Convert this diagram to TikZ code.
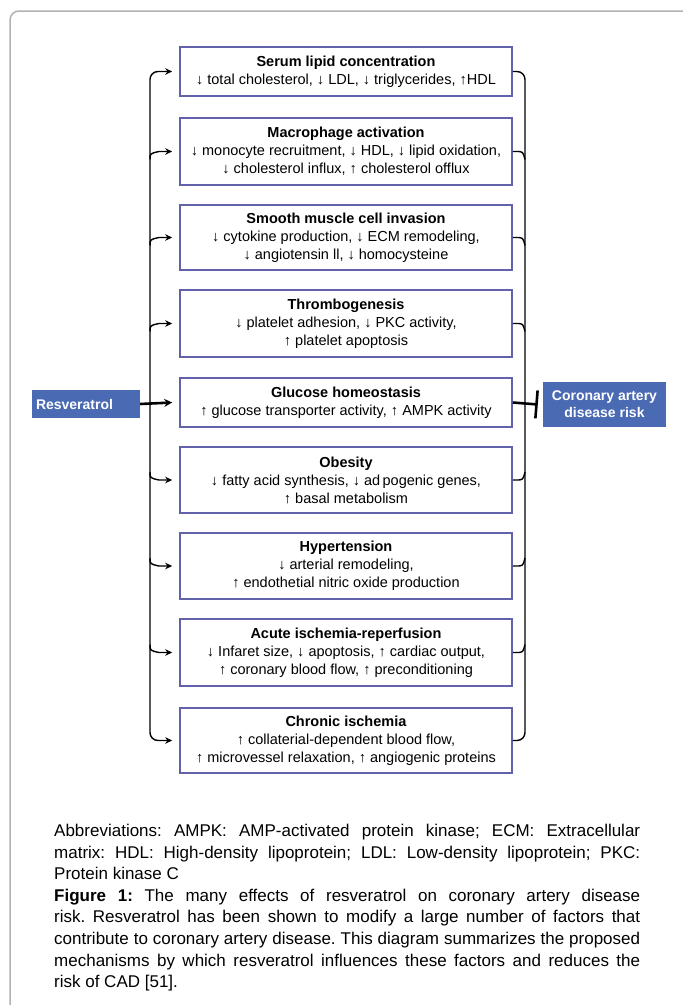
\documentclass[tikz,border=0pt]{standalone}
\usepackage{fontspec}
\setmainfont{Liberation Sans}
\usetikzlibrary{arrows.meta,calc}
\setlength{\parindent}{0pt}
\frenchspacing

\definecolor{boxline}{RGB}{98,98,170}
\definecolor{resblue}{RGB}{74,106,180}
\definecolor{framegray}{RGB}{178,178,178}

\tikzset{
	factor/.style={draw=boxline, line width=1.6pt, minimum width=332pt, minimum height=#1, align=center, inner sep=0pt, font=\fontsize{14.5}{18}\selectfont},
	factor/.default=66pt,
	tag/.style={fill=resblue, text=white, inner sep=0pt, font=\bfseries\fontsize{14}{17}\selectfont},
	wire/.style={line width=1.4pt},
	feed/.style={wire, -{Stealth[length=7pt,width=6.5pt]}},
	trunk/.style={wire, {Stealth[length=7pt,width=6.5pt]}-{Stealth[length=7pt,width=6.5pt]}, rounded corners=8pt},
}

\begin{document}
\begin{tikzpicture}[x=1pt,y=-1pt]
			%%%%% START %%%%%
			\useasboundingbox (0,0) rectangle (683,1005);
			
			\begin{scope}
				\clip (0,0) rectangle (683,1005);
				\draw[framegray, line width=1.5pt, rounded corners=9pt] (10,1030) -- (10,11) -- (710,11);
			\end{scope}
			
			\node[factor=49pt] (lipid) at (346,71.5) {\textbf{Serum lipid concentration}\\↓ total cholesterol, ↓ LDL, ↓ triglycerides, ↑HDL};
			\node[factor=67pt] (macro) at (346,151.5) {\textbf{Macrophage activation}\\↓ monocyte recruitment, ↓ HDL, ↓ lipid oxidation,\\↓ cholesterol influx, ↑ cholesterol offlux};
			\node[factor=65pt] (muscle) at (346,237.5) {\textbf{Smooth muscle cell invasion}\\↓ cytokine production, ↓ ECM remodeling,\\↓ angiotensin ll, ↓ homocysteine};
			\node[factor=67pt] (thrombo) at (346,323.5) {\textbf{Thrombogenesis}\\↓ platelet adhesion, ↓ PKC activity,\\↑ platelet apoptosis};
			\node[factor=49pt] (glucose) at (346,402.5) {\textbf{Glucose homeostasis}\\↑ glucose transporter activity, ↑ AMPK activity};
			\node[factor=66pt] (obesity) at (346,480) {\textbf{Obesity}\\↓ fatty acid synthesis, ↓ ad\,pogenic genes,\\↑ basal metabolism};
			\node[factor=66pt] (hyper) at (346,566) {\textbf{Hypertension}\\↓ arterial remodeling,\\↑ endothetial nitric oxide production};
			\node[factor=67pt] (acute) at (346,652.5) {\textbf{Acute ischemia-reperfusion}\\↓ Infaret size, ↓ apoptosis, ↑ cardiac output,\\↑ coronary blood flow, ↑ preconditioning};
			\node[factor=65pt] (chronic) at (346,740.5) {\textbf{Chronic ischemia}\\↑ collaterial-dependent blood flow,\\↑ microvessel relaxation, ↑ angiogenic proteins};
			
			\node[tag, minimum width=108pt, minimum height=28pt, text width=100pt, align=left] (res) at (86,404) {Resveratrol};
			\node[tag, minimum width=123pt, minimum height=45pt, align=center] (cad) at (604.5,404.5) {Coronary artery\\disease risk};
			
			\coordinate (L) at (150,0);
			\coordinate (R) at (525,0);
			
			% left side
			\draw[trunk] ([xshift=-7pt]chronic.west) -| (L |- lipid) -- ([xshift=-7pt]lipid.west);
			\foreach \b in {macro,muscle,thrombo}
				\draw[feed] ($(L |- \b.west)+(0,8)$) .. controls ($(L |- \b.west)+(0,2)$) .. ($(L |- \b.west)+(9,0)$) -- ([xshift=-7pt]\b.west);
			\foreach \b in {obesity,hyper,acute}
				\draw[feed] ($(L |- \b.west)+(0,-8)$) .. controls ($(L |- \b.west)+(0,-2)$) .. ($(L |- \b.west)+(9,0)$) -- ([xshift=-7pt]\b.west);
			
			% right side
			\draw[wire, rounded corners=8pt] (lipid.east) -| (R |- chronic) -- (chronic.east);
			\foreach \b in {macro,muscle,thrombo}
				\draw[wire] (\b.east) -- ($(R |- \b.east)+(-9,0)$) .. controls ($(R |- \b.east)+(-2,0)$) .. ($(R |- \b.east)+(0,8)$);
			\foreach \b in {obesity,hyper,acute}
				\draw[wire] (\b.east) -- ($(R |- \b.east)+(-9,0)$) .. controls ($(R |- \b.east)+(-2,0)$) .. ($(R |- \b.east)+(0,-8)$);
			
			\draw[line width=2.6pt, -{Stealth[length=8pt,width=8pt]}] (res.east) -- ([xshift=-7pt]glucose.west);
			\draw[line width=2.6pt, -{Bar[width=28pt,line width=2.6pt]}] (glucose.east) -- ([xshift=-5pt]cad.west);
			
			\node[anchor=north west, inner sep=0pt, text width=586pt, align=justify, font=\fontsize{17}{21.6}\selectfont] (caption) at (54,824) {Abbreviations: AMPK: AMP-activated protein kinase; ECM: Extracellular\linebreak matrix: HDL: High-density lipoprotein; LDL: Low-density lipoprotein; PKC:\linebreak Protein kinase C\par \textbf{Figure 1:} The many effects of resveratrol on coronary artery disease\linebreak risk. Resveratrol has been shown to modify a large number of factors that\linebreak contribute to coronary artery disease. This diagram summarizes the proposed\linebreak mechanisms by which resveratrol influences these factors and reduces the\linebreak risk of CAD [51].};
			
			%%%%% END %%%%%
\end{tikzpicture}
\end{document}
